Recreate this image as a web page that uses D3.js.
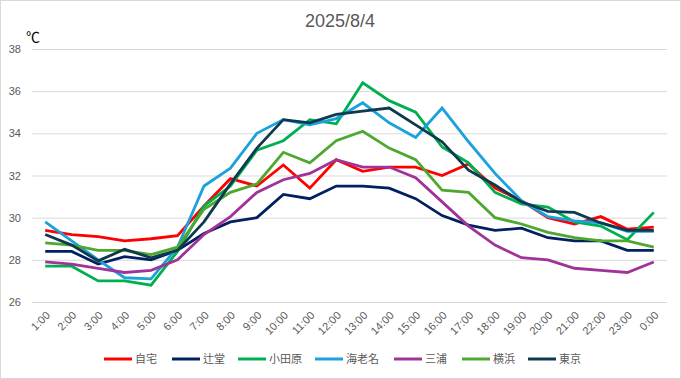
<!DOCTYPE html>
<html>
<head>
<meta charset="utf-8">
<script src="https://cdn.jsdelivr.net/npm/d3@7"></script>
<style>
  body { margin: 0; background: #fff; }
  text { font-family: "Liberation Sans", Arial, "Noto Sans CJK JP", sans-serif; }
</style>
</head>
<body>
<script>
// chart data
const hours = ["1:00","2:00","3:00","4:00","5:00","6:00","7:00","8:00","9:00","10:00","11:00","12:00",
  "13:00","14:00","15:00","16:00","17:00","18:00","19:00","20:00","21:00","22:00","23:00","0:00"];
const yTicks = [26, 28, 30, 32, 34, 36, 38];
const names = ["自宅", "辻堂", "小田原", "海老名", "三浦", "横浜", "東京"];
const colors = ["#ff0000", "#002060", "#00b050", "#1ba1dc", "#a0339a", "#4ea72e", "#0e3a4f"];

const jitaku = [29.4, 29.2, 29.1, 28.9, 29.0, 29.15, 30.55, 31.85, 31.5, 32.5, 31.4, 32.75, 32.2, 32.4, 32.4, 32.0, 32.55, 31.4, 30.8, 30.0, 29.7, 30.05, 29.45, 29.55];
const tsujido = [28.4, 28.4, 27.8, 28.15, 28.0, 28.45, 29.25, 29.8, 30.0, 31.1, 30.9, 31.5, 31.5, 31.4, 30.9, 30.1, 29.65, 29.4, 29.5, 29.05, 28.9, 28.9, 28.45, 28.45];
const odawara = [27.7, 27.7, 27.0, 27.0, 26.8, 28.4, 30.55, 31.5, 33.2, 33.65, 34.65, 34.45, 36.4, 35.55, 35.0, 33.35, 32.6, 31.2, 30.65, 30.5, 29.8, 29.6, 28.95, 30.25];
const ebina = [29.8, 28.9, 28.0, 27.15, 27.1, 28.6, 31.5, 32.35, 34.0, 34.65, 34.4, 34.7, 35.45, 34.5, 33.8, 35.2, 33.6, 32.1, 30.8, 30.05, 29.85, 29.75, 29.35, 29.35];
const miura = [27.9, 27.8, 27.6, 27.4, 27.5, 28.0, 29.2, 30.05, 31.2, 31.8, 32.1, 32.75, 32.4, 32.4, 31.9, 30.75, 29.6, 28.7, 28.1, 28.0, 27.6, 27.5, 27.4, 27.9];
const yokohama = [28.8, 28.7, 28.45, 28.45, 28.25, 28.6, 30.4, 31.2, 31.6, 33.1, 32.6, 33.65, 34.1, 33.3, 32.75, 31.3, 31.2, 30.0, 29.7, 29.3, 29.05, 28.9, 28.9, 28.6];
const tokyo = [29.2, 28.7, 27.95, 28.5, 28.1, 28.45, 29.8, 31.6, 33.3, 34.65, 34.5, 34.9, 35.05, 35.2, 34.4, 33.6, 32.25, 31.55, 30.75, 30.3, 30.25, 29.75, 29.4, 29.4];

const seriesValues = [jitaku, tsujido, odawara, ebina, miura, yokohama, tokyo];

const W = 681, H = 379;
const plot = { left: 32, right: 667, top: 49, bottom: 302 };

const svg = d3.select("body").append("svg")
    .attr("width", W)
    .attr("height", H);

// outer frame
svg.append("rect")
    .attr("x", 0.5).attr("y", 0.5)
    .attr("width", W - 1).attr("height", H - 1)
    .attr("fill", "#fff")
    .attr("stroke", "#d9d9d9");

const x = d3.scalePoint()
    .domain(hours)
    .range([plot.left, plot.right])
    .padding(0.5);

const y = d3.scaleLinear()
    .domain([26, 38])
    .range([plot.bottom, plot.top]);

// gridlines + y labels
const yAxis = svg.append("g")
    .attr("transform", "translate(" + plot.left + ",0)")
    .call(d3.axisLeft(y).tickValues(yTicks).tickSize(-(plot.right - plot.left)).tickPadding(11))
yAxis.select(".domain").remove();
yAxis.selectAll("line").attr("stroke", "#d9d9d9");
yAxis.selectAll("text")
    .attr("fill", "#595959")
    .style("font-size", "11px");

// x labels
const xAxis = svg.append("g")
    .attr("transform", "translate(0," + plot.bottom + ")")
    .call(d3.axisBottom(x).tickSize(0))
xAxis.select(".domain").remove();
xAxis.selectAll("text")
    .attr("fill", "#595959")
    .style("font-size", "11px")
    .attr("text-anchor", "end")
    .attr("dy", null)
    .attr("y", 0)
    .attr("transform", "translate(5,14) rotate(-45)");

// lines
const line = d3.line()
    .x((d, i) => x(hours[i]))
    .y(d => y(d));

svg.selectAll(".series")
    .data(seriesValues)
    .enter()
    .append("path")
    .attr("class", "series")
    .attr("d", d => line(d))
    .attr("fill", "none")
    .attr("stroke", (d, i) => colors[i])
    .attr("stroke-width", 2.8)
    .attr("stroke-linejoin", "miter");

// title
svg.append("text")
    .attr("x", 340)
    .attr("y", 27)
    .attr("text-anchor", "middle")
    .attr("fill", "#595959")
    .style("font-size", "18px")
    .text("2025/8/4");

svg.append("text")
    .attr("x", 26)
    .attr("y", 42)
    .attr("fill", "#000")
    .style("font-size", "14px")
    .text("℃");

// legend
const legendX = [104, 172, 238, 315, 394, 462, 528];
const legend = svg.selectAll(".legend")
    .data(names)
    .enter()
    .append("g")
    .attr("class", "legend")
    .attr("transform", (d, i) => "translate(" + legendX[i] + ",359)");

legend.append("line")
    .attr("x1", 0).attr("x2", 28)
    .attr("y1", 0).attr("y2", 0)
    .attr("stroke", (d, i) => colors[i])
    .attr("stroke-width", 3);

legend.append("text")
    .attr("x", 31)
    .attr("y", 4)
    .attr("fill", "#595959")
    .style("font-size", "11px")
    .text(d => d);
</script>
</body>
</html>
